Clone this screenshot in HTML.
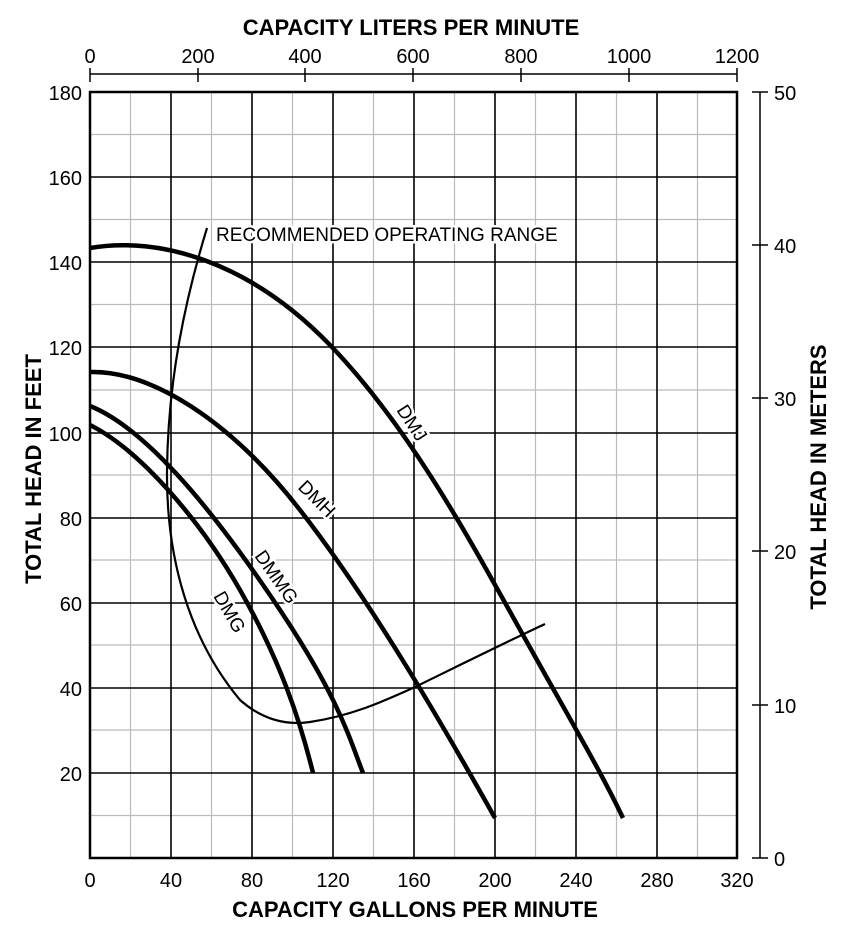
<!DOCTYPE html>
<html><head><meta charset="utf-8"><style>html,body{margin:0;padding:0;background:#fff}svg{display:block}</style></head><body>
<svg width="850" height="946" viewBox="0 0 850 946" xmlns="http://www.w3.org/2000/svg" font-family="Liberation Sans, Arial, sans-serif">
<g stroke="#bbb" stroke-width="1.2">
<line x1="130.5" y1="92" x2="130.5" y2="858"/><line x1="211.5" y1="92" x2="211.5" y2="858"/><line x1="292.5" y1="92" x2="292.5" y2="858"/><line x1="373.5" y1="92" x2="373.5" y2="858"/><line x1="454.5" y1="92" x2="454.5" y2="858"/><line x1="535.5" y1="92" x2="535.5" y2="858"/><line x1="616.5" y1="92" x2="616.5" y2="858"/><line x1="697.5" y1="92" x2="697.5" y2="858"/>
<line x1="90" y1="134.5" x2="737" y2="134.5"/><line x1="90" y1="219.5" x2="737" y2="219.5"/><line x1="90" y1="304.5" x2="737" y2="304.5"/><line x1="90" y1="390" x2="737" y2="390"/><line x1="90" y1="475" x2="737" y2="475"/><line x1="90" y1="560" x2="737" y2="560"/><line x1="90" y1="645" x2="737" y2="645"/><line x1="90" y1="730" x2="737" y2="730"/><line x1="90" y1="815.5" x2="737" y2="815.5"/>
</g>
<g stroke="#000" stroke-width="1.6">
<line x1="171" y1="92" x2="171" y2="858"/><line x1="252" y1="92" x2="252" y2="858"/><line x1="333" y1="92" x2="333" y2="858"/><line x1="414" y1="92" x2="414" y2="858"/><line x1="495" y1="92" x2="495" y2="858"/><line x1="576" y1="92" x2="576" y2="858"/><line x1="657" y1="92" x2="657" y2="858"/>
<line x1="90" y1="177" x2="737" y2="177"/><line x1="90" y1="262" x2="737" y2="262"/><line x1="90" y1="347" x2="737" y2="347"/><line x1="90" y1="433" x2="737" y2="433"/><line x1="90" y1="518" x2="737" y2="518"/><line x1="90" y1="603" x2="737" y2="603"/><line x1="90" y1="688" x2="737" y2="688"/><line x1="90" y1="773" x2="737" y2="773"/>
</g>
<rect x="90" y="92" width="647" height="766" fill="none" stroke="#000" stroke-width="2.5"/>
<g stroke="#000" stroke-width="1.5">
<line x1="90" y1="74" x2="737" y2="74"/>
<line x1="90" y1="68" x2="90" y2="82"/><line x1="198" y1="68" x2="198" y2="82"/><line x1="305" y1="68" x2="305" y2="82"/><line x1="413" y1="68" x2="413" y2="82"/><line x1="521" y1="68" x2="521" y2="82"/><line x1="629" y1="68" x2="629" y2="82"/><line x1="737" y1="68" x2="737" y2="82"/>
</g>
<g font-size="20" text-anchor="middle">
<text x="90" y="63">0</text><text x="198" y="63">200</text><text x="305" y="63">400</text><text x="413" y="63">600</text><text x="521" y="63">800</text><text x="629" y="63">1000</text><text x="737" y="63">1200</text>
</g>
<text x="411" y="35" font-size="22" font-weight="bold" text-anchor="middle">CAPACITY LITERS PER MINUTE</text>
<g stroke="#000" stroke-width="1.5">
<line x1="760" y1="92" x2="760" y2="858"/>
<line x1="752" y1="92" x2="768" y2="92"/><line x1="752" y1="245" x2="768" y2="245"/><line x1="752" y1="398" x2="768" y2="398"/><line x1="752" y1="551" x2="768" y2="551"/><line x1="752" y1="705" x2="768" y2="705"/><line x1="752" y1="858" x2="768" y2="858"/>
</g>
<g font-size="20">
<text x="774" y="100">50</text><text x="774" y="253">40</text><text x="774" y="406">30</text><text x="774" y="559">20</text><text x="774" y="713">10</text><text x="774" y="866">0</text>
</g>
<text transform="translate(826,477) rotate(-90)" font-size="22" font-weight="bold" text-anchor="middle">TOTAL HEAD IN METERS</text>
<g font-size="20" text-anchor="end">
<text x="82" y="100">180</text><text x="82" y="185">160</text><text x="82" y="270">140</text><text x="82" y="355">120</text><text x="82" y="441">100</text><text x="82" y="526">80</text><text x="82" y="611">60</text><text x="82" y="696">40</text><text x="82" y="781">20</text>
</g>
<text transform="translate(41,469) rotate(-90)" font-size="22" font-weight="bold" text-anchor="middle">TOTAL HEAD IN FEET</text>
<g font-size="20" text-anchor="middle">
<text x="90" y="887">0</text><text x="171" y="887">40</text><text x="252" y="887">80</text><text x="333" y="887">120</text><text x="414" y="887">160</text><text x="495" y="887">200</text><text x="576" y="887">240</text><text x="657" y="887">280</text><text x="737" y="887">320</text>
</g>
<text x="415" y="917" font-size="22" font-weight="bold" text-anchor="middle">CAPACITY GALLONS PER MINUTE</text>
<g fill="none" stroke="#000" stroke-width="4.5" stroke-linejoin="round">
<path d="M90,248 C160,236 250,262 330,345 S470,540 523,635 S600,770 623,818"/>
<path d="M90,372 C150,370 230,420 300,510 S440,720 495,818"/>
<path d="M90,406 C150,430 220,520 280,610 S350,740 363,773"/>
<path d="M90,425 C140,450 200,520 240,590 S300,720 313,773"/>
</g>
<path d="M207,228 C185,300 168,380 167,470 C166,560 190,640 240,700 C265,722 290,725 310,722 C350,716 380,703 415,687 C460,665 500,645 545,624" fill="none" stroke="#000" stroke-width="2.2"/>
<text x="216" y="241" font-size="19" stroke="#fff" stroke-width="5" paint-order="stroke" fill="#000">RECOMMENDED OPERATING RANGE</text>
<g font-size="19" stroke="#fff" stroke-width="5" paint-order="stroke" fill="#000">
<text transform="translate(396,410) rotate(57)">DMJ</text>
<text transform="translate(297,488) rotate(45)">DMH</text>
<text transform="translate(254,556) rotate(55)">DMMG</text>
<text transform="translate(213,596) rotate(60)">DMG</text>
</g>
</svg>
</body></html>
